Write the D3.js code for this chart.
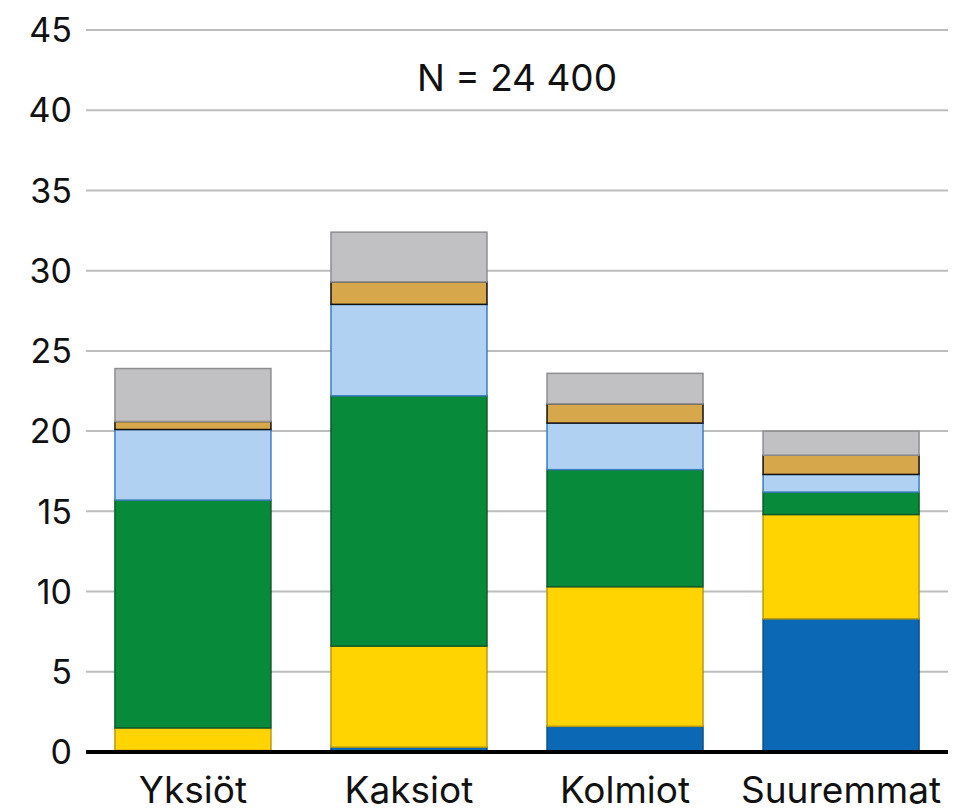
<!DOCTYPE html>
<html>
<head>
<meta charset="utf-8">
<script src="https://cdn.jsdelivr.net/npm/d3@7"></script>
<style>
  body { margin: 0; background: #fff; }
  text { font-family: Inter, "Noto Sans", sans-serif; fill: #111; }
</style>
</head>
<body>
<div class="chart"></div>
<script>
var categories = ['Yksiöt', 'Kaksiot', 'Kolmiot', 'Suuremmat']
var layers = ['s1', 's2', 's3', 's4', 's5', 's6']
// segment values, bottom to top
var s1 = [0.1, 0.3, 1.6, 8.3]
var s2 = [1.4, 6.3, 8.7, 6.5]
var s3 = [14.2, 15.6, 7.3, 1.4]
var s4 = [4.4, 5.7, 2.9, 1.1]
var s5 = [0.5, 1.4, 1.2, 1.2]
var s6 = [3.3, 3.1, 1.9, 1.5]
var yTicks = [0, 5, 10, 15, 20, 25, 30, 35, 40, 45]
var note = 'N = 24 400'

var fills = ['#0a68b4', '#ffd400', '#088a3b', '#b0d1f1', '#d6a74b', '#c1c1c3']
var strokes = ['#0a4f8a', '#b89a10', '#0b5a28', '#3a7fc0', '#111111', '#8e8e90']

var width = 960
var height = 812
var margin = {top: 30, right: 12, bottom: 60, left: 86}

var rows = categories.map(function(c, i) {
  return {cat: c, s1: s1[i], s2: s2[i], s3: s3[i], s4: s4[i], s5: s5[i], s6: s6[i]}
})
var stacked = d3.stack().keys(layers)(rows)

var svg = d3.select('.chart')
  .append('svg')
  .attr('width', width)
  .attr('height', height)

var x = d3.scaleBand()
  .domain(categories)
  .range([margin.left, width - margin.right])
  .paddingInner(0.278)
  .paddingOuter(0.134)

var y = d3.scaleLinear()
  .domain([0, 45])
  .range([height - margin.bottom, margin.top])

// gridlines
svg.append('g')
  .selectAll('line')
  .data(yTicks.slice(1))
  .enter().append('line')
  .attr('x1', margin.left)
  .attr('x2', width - margin.right)
  .attr('y1', function(d) { return y(d) })
  .attr('y2', function(d) { return y(d) })
  .style('stroke', '#bdbdbd')
  .style('stroke-width', 2)

// y labels
svg.append('g')
  .selectAll('text')
  .data(yTicks)
  .enter().append('text')
  .attr('x', 72)
  .attr('y', function(d) { return y(d) })
  .attr('dy', '0.36em')
  .attr('text-anchor', 'end')
  .style('font-size', '34px')
  .text(function(d) { return d })

// bars
svg.append('g')
  .selectAll('g')
  .data(stacked)
  .enter().append('g')
  .each(function(layer, li) {
    d3.select(this).selectAll('rect')
      .data(layer)
      .enter().append('rect')
      .attr('x', function(d) { return x(d.data.cat) })
      .attr('width', x.bandwidth())
      .attr('y', function(d) { return y(d[1]) })
      .attr('height', function(d) { return y(d[0]) - y(d[1]) })
      .style('fill', fills[li])
      .style('stroke', strokes[li])
      .style('stroke-width', 1.5)
  })

// baseline
svg.append('line')
  .attr('x1', margin.left)
  .attr('x2', width - margin.right)
  .attr('y1', y(0))
  .attr('y2', y(0))
  .style('stroke', '#000')
  .style('stroke-width', 4)

// category labels
svg.append('g')
  .selectAll('text')
  .data(categories)
  .enter().append('text')
  .attr('x', function(d) { return x(d) + x.bandwidth() / 2 })
  .attr('y', 803)
  .attr('text-anchor', 'middle')
  .style('font-size', '37px')
  .text(function(d) { return d })

svg.append('text')
  .attr('x', 517)
  .attr('y', 91)
  .attr('text-anchor', 'middle')
  .style('font-size', '37px')
  .text(note)
</script>
</body>
</html>
